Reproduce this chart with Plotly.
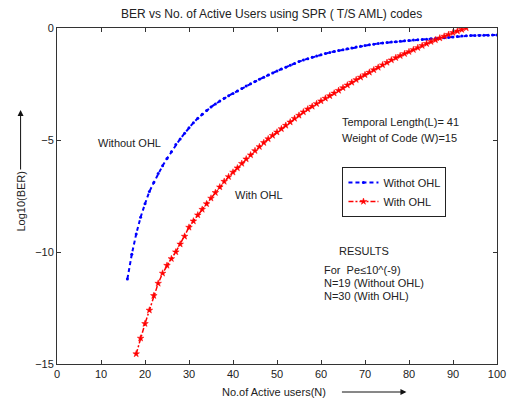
import plotly.graph_objects as go

# ---------------- data ----------------
n_without = list(range(16, 101))
ber_without = [
    -11.2, -10.1, -9.2, -8.45, -7.85, -7.3, -6.9, -6.5, -6.15, -5.83,
    -5.53, -5.2, -4.95, -4.7, -4.45, -4.23, -4.03, -3.85, -3.68, -3.53,
    -3.39, -3.26, -3.14, -3.03, -2.92, -2.81, -2.70, -2.59, -2.49, -2.39,
    -2.29, -2.2, -2.1, -2.01, -1.92, -1.83, -1.75, -1.66, -1.58, -1.5,
    -1.43, -1.37, -1.31, -1.25, -1.19, -1.14, -1.09, -1.05, -1.01, -0.97,
    -0.93, -0.89, -0.85, -0.81, -0.78, -0.75, -0.72, -0.69, -0.67, -0.65,
    -0.63, -0.61, -0.59, -0.57, -0.56, -0.54, -0.53, -0.51, -0.50, -0.48,
    -0.47, -0.45, -0.44, -0.42, -0.40, -0.38, -0.36, -0.35, -0.34, -0.33,
    -0.33, -0.32, -0.32, -0.31, -0.31,
]

n_with = list(range(18, 94))
ber_with = [
    -14.55, -13.85, -13.2, -12.6, -11.95, -11.4, -10.95, -10.6, -10.3, -10.0,
    -9.65, -9.3, -8.9, -8.62, -8.35, -8.1, -7.85, -7.6, -7.35, -7.1,
    -6.85, -6.64, -6.44, -6.25, -6.05, -5.85, -5.67, -5.48, -5.3, -5.12,
    -4.95, -4.8, -4.65, -4.5, -4.35, -4.2, -4.04, -3.9, -3.75, -3.62,
    -3.5, -3.38, -3.26, -3.14, -3.03, -2.91, -2.79, -2.67, -2.55, -2.43,
    -2.31, -2.2, -2.09, -1.98, -1.87, -1.76, -1.65, -1.54, -1.43, -1.33,
    -1.24, -1.15, -1.06, -0.97, -0.88, -0.79, -0.70, -0.61, -0.53, -0.45,
    -0.37, -0.29, -0.21, -0.14, -0.07, 0.0,
]

x_ticks = [0, 10, 20, 30, 40, 50, 60, 70, 80, 90, 100]
y_ticks = [0, -5, -10, -15]

# ---------------- layout geometry ----------------
W, H = 518, 405
L, R, T, B = 57, 14, 28, 41
PW, PH = W - L - R, H - T - B

def px(x):
    return (x - L) / PW

def py(y):
    return (H - B - y) / PH

FONT = "Liberation Sans, Arial, sans-serif"
TXT = "#222222"

fig = go.Figure()
fig.add_trace(go.Scatter(
    x=n_without, y=ber_without, name="Withot OHL",
    mode="lines+markers",
    line=dict(color="#0000ff", width=2, dash="4px,3px"),
    marker=dict(color="#0000ff", size=3, symbol="circle"),
))
fig.add_trace(go.Scatter(
    x=n_with, y=ber_with, name="With OHL",
    mode="lines+markers",
    line=dict(color="#ff0000", width=1.5, dash="5px,2px,2px,2px"),
    marker=dict(color="#ff0000", size=5, symbol="star",
                line=dict(color="#ff0000", width=0.5)),
))

axis_common = dict(
    showgrid=False, zeroline=False, showline=True, linecolor="#333333",
    linewidth=1, mirror="ticks", ticks="inside", ticklen=4,
    tickcolor="#333333", tickfont=dict(family=FONT, size=11, color=TXT),
)

fig.update_layout(
    width=W, height=H,
    margin=dict(l=L, r=R, t=T, b=B),
    paper_bgcolor="white", plot_bgcolor="white",
    font=dict(family=FONT, size=11, color=TXT),
    xaxis=dict(range=[0, 100], tickvals=x_ticks, **axis_common),
    yaxis=dict(range=[-15, 0], tickvals=y_ticks, **axis_common),
    showlegend=True,
    legend=dict(
        x=px(347), y=py(167), xanchor="left", yanchor="top",
        bgcolor="white", bordercolor="#222222", borderwidth=1,
        font=dict(family=FONT, size=11, color=TXT),
        tracegroupgap=0, itemwidth=30,
    ),
)

def text(x, y, s, anchor="left", size=11):
    fig.add_annotation(
        x=px(x), y=py(y), xref="paper", yref="paper", text=s,
        showarrow=False, xanchor=anchor, yanchor="middle",
        font=dict(family=FONT, size=size, color=TXT),
    )

# title
text(275, 14, "BER vs No. of Active Users using SPR ( T/S AML) codes", anchor="center", size=12)

# in-plot labels
text(97, 143, "Without OHL")
text(236, 195, "With OHL")
text(345, 122, "Temporal Length(L)= 41")
text(345, 138, "Weight of Code (W)=15")
text(341, 251, "RESULTS")
text(326, 270, "For  Pe≤10^(-9)")
text(326, 283, "N=19 (Without OHL)")
text(326, 296, "N=30 (With OHL)")

# x-axis title with arrow
text(277, 392, "No.of Active users(N)", anchor="center")
fig.add_annotation(
    x=px(412), y=py(392), xref="paper", yref="paper",
    ax=-66, ay=0, axref="pixel", ayref="pixel",
    text="", showarrow=True, arrowhead=2, arrowsize=1.2, arrowwidth=1,
    arrowcolor="#111111",
)

# y-axis title with arrow
fig.add_annotation(
    x=px(20), y=py(201), xref="paper", yref="paper", text="Log10(BER)",
    showarrow=False, textangle=-90, xanchor="center", yanchor="middle",
    font=dict(family=FONT, size=11, color=TXT),
)
fig.add_annotation(
    x=px(20), y=py(110), xref="paper", yref="paper",
    ax=0, ay=61, axref="pixel", ayref="pixel",
    text="", showarrow=True, arrowhead=2, arrowsize=1.2, arrowwidth=1,
    arrowcolor="#111111",
)

fig.write_html("out.html", config={"displayModeBar": False},
               post_script="document.body.style.margin='0';")
